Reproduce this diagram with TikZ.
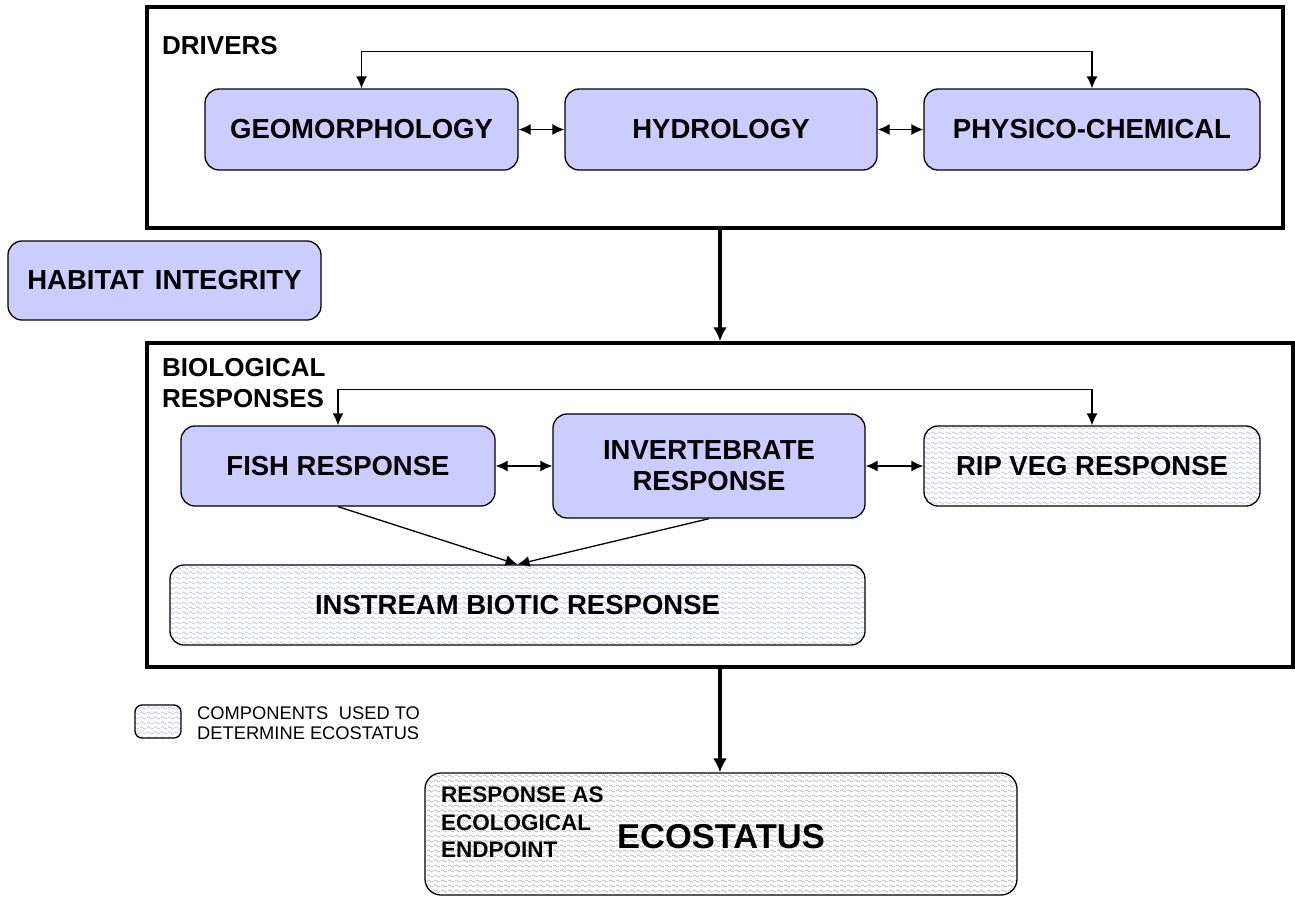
\documentclass[tikz,border=0pt]{standalone}
\usepackage{fontspec}
\setmainfont{Liberation Sans}
\usetikzlibrary{arrows.meta,patterns.meta}
\definecolor{lav}{HTML}{CCCCFF}
\definecolor{wavecol}{HTML}{B4B4F0}
\tikzdeclarepattern{
  name=wavy,
  type=uncolored,
  bounding box={(0pt,0pt) and (7pt,4.5pt)},
  tile size={(7pt,4.5pt)},
  code={
    \draw[line width=0.55pt] (0pt,2.25pt) sin (1.75pt,3.5pt) cos (3.5pt,2.25pt) sin (5.25pt,1pt) cos (7pt,2.25pt);
  }
}
\begin{document}
\begin{tikzpicture}[x=1pt,y=-1pt,
  box/.style={draw=black, line width=1.3pt, rounded corners=14pt, fill=lav,
    font=\fontsize{27.5}{31}\selectfont\bfseries, align=center, inner sep=0pt},
  hbox/.style={box, fill=none, pattern=wavy, pattern color=wavecol},
  frame/.style={draw=black, line width=3.5pt, inner sep=0pt},
  conn/.style={line width=1.3pt, -{Latex[length=12pt,width=11pt]}},
  dconn/.style={line width=1.3pt, {Latex[length=12pt,width=11pt]}-{Latex[length=12pt,width=11pt]}},
  bigarrow/.style={line width=3.5pt, -{Latex[length=14pt,width=14pt]}},
  title/.style={font=\fontsize{26}{31}\selectfont\bfseries, align=left, inner sep=0pt},
]
\useasboundingbox (0,0) rectangle (1295,897);

% frames
\node[frame, minimum width=1136pt, minimum height=221pt] (drv) at (715,117.5) {};
\node[frame, minimum width=1146pt, minimum height=324pt] (bio) at (720,505) {};

\node[title, anchor=west] (drvt) at (162,46) {DRIVERS};
\node[title, anchor=north west] (biot) at (162,358) {BIOLOGICAL\\RESPONSES};

% drivers boxes
\node[box, minimum width=313pt, minimum height=81pt] (geo) at (361.5,129.5) {GEOMORPHOLOGY};
\node[box, minimum width=312pt, minimum height=81pt] (hyd) at (721,129.5) {HYDROLOGY};
\node[box, minimum width=336pt, minimum height=81pt] (phy) at (1092,129.5) {PHYSICO-CHEMICAL};

\draw[dconn] (geo.north) -- ++(0,-37) -| (phy.north);
\draw[dconn] (geo.east) -- (hyd.west);
\draw[dconn] (hyd.east) -- (phy.west);

% habitat integrity
\node[box, minimum width=313pt, minimum height=79pt] (hab) at (164.5,280.5) {HABITAT\hspace{0.4em}INTEGRITY};

% biological boxes
\node[box, minimum width=314pt, minimum height=80pt] (fish) at (338,466) {FISH RESPONSE};
\node[box, minimum width=312pt, minimum height=104pt] (inv) at (709,466) {INVERTEBRATE\\RESPONSE};
\node[hbox, minimum width=336pt, minimum height=80pt] (rip) at (1092,466) {RIP VEG RESPONSE};
\node[hbox, minimum width=695pt, minimum height=80pt] (ins) at (517.5,605) {INSTREAM BIOTIC RESPONSE};

\draw[dconn] (fish.north) -- ++(0,-36) -| (rip.north);
\draw[dconn] (fish.east) -- (inv.west);
\draw[dconn] (inv.east) -- (rip.west);
\draw[conn] (fish.south) -- (ins.north);
\draw[conn] (inv.south) -- (ins.north);

% big arrows
\draw[bigarrow] (drv.south -| bio.north) -- (bio.north);

% ecostatus
\node[draw=black, line width=1.3pt, rounded corners=16pt, pattern=wavy, pattern color=gray!65,
  minimum width=592pt, minimum height=122pt, inner sep=0pt] (eco) at (721,834) {};
\draw[bigarrow] (bio.south) -- (bio.south |- eco.north);
\node[font=\fontsize{22.5}{27.5}\selectfont\bfseries, align=left, anchor=north west, inner sep=0pt] (ecol) at (441,787) {RESPONSE AS\\ECOLOGICAL\\ENDPOINT};
\node[font=\fontsize{34.5}{40}\selectfont\bfseries, inner sep=0pt] (ecot) at (721,837) {ECOSTATUS};

% legend
\node[draw=black, line width=1.3pt, rounded corners=7pt, pattern=wavy, pattern color=wavecol,
  minimum width=46pt, minimum height=33pt, inner sep=0pt] (leg) at (158,721.5) {};
\node[font=\fontsize{18.3}{20}\selectfont, align=left, anchor=west, inner sep=0pt] (legt) at (197,723) {COMPONENTS\hspace{0.3em} USED TO\\DETERMINE ECOSTATUS};
\end{tikzpicture}
\end{document}
